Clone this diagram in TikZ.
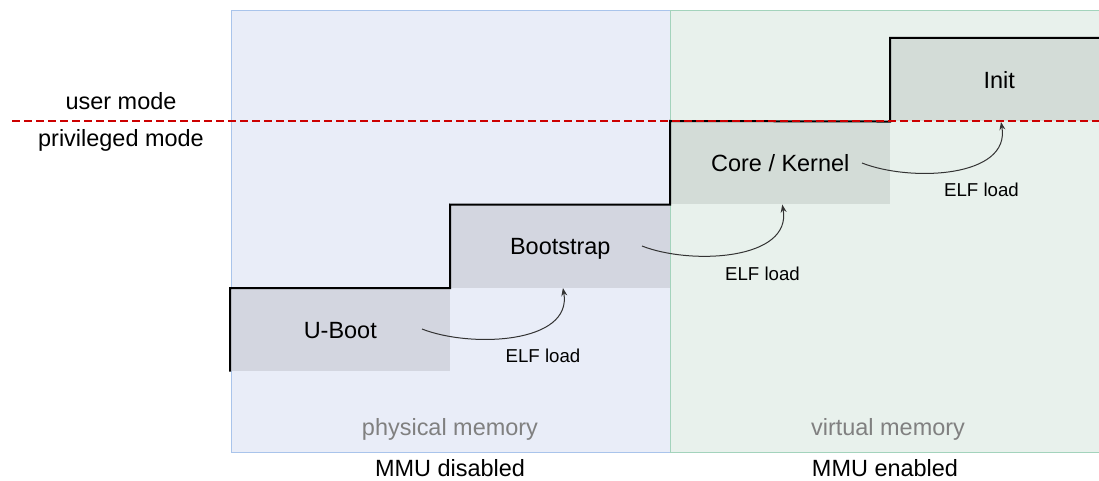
\documentclass[tikz,border=0pt]{standalone}
\usepackage{fontspec}
\setmainfont{Liberation Sans}
\usetikzlibrary{arrows.meta}
\definecolor{physfill}{HTML}{E9EDF8}
\definecolor{physline}{HTML}{A9C4EB}
\definecolor{virtfill}{HTML}{E8F1EC}
\definecolor{virtline}{HTML}{A3D3BC}
\definecolor{grayA}{HTML}{D3D6E0}
\definecolor{grayB}{HTML}{D3DCD7}
\definecolor{modered}{HTML}{CC0000}
\definecolor{memtext}{HTML}{808080}
\definecolor{arrowcol}{HTML}{333333}
\begin{document}
\begin{tikzpicture}[x=0.75pt,y=-0.75pt,
  big/.style={font=\fontsize{17.6}{20}\selectfont, inner sep=0},
  small/.style={font=\fontsize{14}{16}\selectfont, inner sep=0},
  memlabel/.style={big, text=memtext, anchor=base},
  stagebox/.style={inner sep=0, anchor=north west, minimum width=165pt, minimum height=62.25pt,
    text height=12.6pt, text depth=0pt, font=\fontsize{17.6}{20}\selectfont},
  stepline/.style={line width=1.5pt, black},
  modeline/.style={line width=1.5pt, modered, dash pattern=on 6pt off 3pt},
  elfarrow/.style={line width=0.75pt, arrowcol, -{Stealth[length=6pt,width=4.5pt,inset=2pt]}}
]
\useasboundingbox (0,0) rectangle (1099,481);
% panels
\node[draw=physline, fill=physfill, line width=0.75pt, anchor=north west, inner sep=0,
  minimum width=330pt, minimum height=330.75pt] (phys) at (230.5,10.5) {};
\node[draw=virtline, fill=virtfill, line width=0.75pt, anchor=north west, inner sep=0,
  minimum width=322pt, minimum height=330.75pt] (virt) at (670,10.5) {};
% stage boxes
\node[stagebox, fill=grayA] (uboot) at (230,288) {U-Boot};
\node[stagebox, fill=grayA] (bootstrap) at (450,204.5) {Bootstrap};
\node[stagebox, fill=grayB] (kernel) at (670,121) {Core / Kernel};
\node[stagebox, fill=grayB, minimum width=163.5pt] (init) at (890,38) {Init};
% step line
\draw[stepline] (uboot.south west) -- (uboot.north west) -- (bootstrap.south west)
  -- (bootstrap.north west) -- (kernel.south west) -- (kernel.north west)
  -- (init.south west) -- (init.north west) -- (init.north east);
% mode line
\coordinate (modeL) at (12,121);
\coordinate (modeR) at (1099,121);
\draw[modeline] (modeL) -- (modeR);
\node[big, anchor=base] (user) at (121,109.5) {user mode};
\node[big, anchor=base] (priv) at (121,147) {privileged mode};
% ELF load arrows
\coordinate (a1) at (422,329);
\coordinate (a2) at (642,246);
\coordinate (a3) at (862,163);
\draw[elfarrow] (a1) .. controls +(48,19) and +(10,56) .. ([xshift=2pt]bootstrap.south);
\draw[elfarrow] (a2) .. controls +(48,19) and +(10,56) .. ([xshift=1.5pt]kernel.south);
\draw[elfarrow] (a3) .. controls +(48,19) and +(10,56) .. (1001,122);
\node[small, anchor=base] (elf1) at (543,362.5) {ELF load};
\node[small, anchor=base] (elf2) at (762.5,280) {ELF load};
\node[small, anchor=base] (elf3) at (981.5,196.5) {ELF load};
% memory labels
\node[memlabel] (physlabel) at (450,435) {physical memory};
\node[memlabel] (virtlabel) at (888,435) {virtual memory};
\node[big, anchor=base] (mmuoff) at (450,476.5) {MMU disabled};
\node[big, anchor=base] (mmuon) at (885,476.5) {MMU enabled};
\end{tikzpicture}
\end{document}
